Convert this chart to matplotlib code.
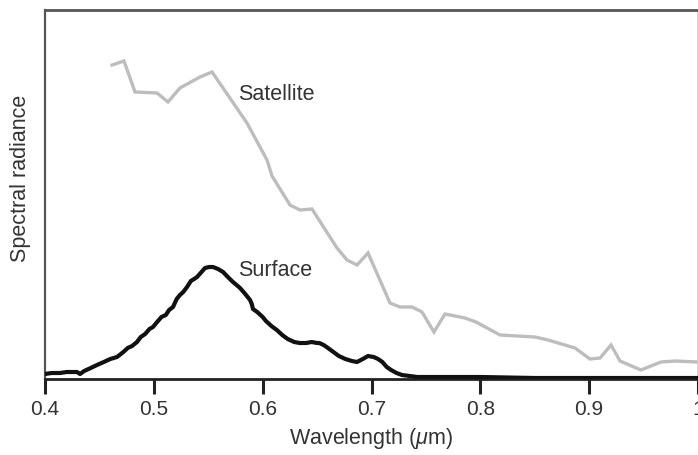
import matplotlib
matplotlib.use("Agg")
import matplotlib.pyplot as plt

plt.rcParams['font.family'] = ['Liberation Sans', 'DejaVu Sans']
plt.rcParams['mathtext.fontset'] = 'custom'
plt.rcParams['mathtext.it'] = 'Liberation Sans:italic'
plt.rcParams['mathtext.rm'] = 'Liberation Sans'

# Satellite spectrum (wavelength in um, radiance in arbitrary units)
sat_wl = [0.4616, 0.4726, 0.4827, 0.5029, 0.5130, 0.5240, 0.5424, 0.5535,
          0.5856, 0.6040, 0.6086, 0.6251, 0.6343, 0.6453, 0.6683, 0.6775,
          0.6867, 0.6968, 0.7170, 0.7262, 0.7372, 0.7464, 0.7574, 0.7675,
          0.7859, 0.7960, 0.8181, 0.8502, 0.8622, 0.8870, 0.9008, 0.9100,
          0.9201, 0.9283, 0.9476, 0.9660, 0.9789, 1.0000]
sat_val = [314, 318, 287, 286, 277, 291, 302, 307,
           256, 219, 203, 174, 169, 170, 131, 119,
           114, 126, 76, 72, 72, 67, 47, 65,
           61, 57, 44, 42, 39, 31, 20, 21,
           34, 18, 9, 17, 18, 17]

# Surface spectrum
surf_wl = [0.4000, 0.4060, 0.4138, 0.4200, 0.4294, 0.4322, 0.4360, 0.4420,
           0.4478, 0.4540, 0.4600, 0.4662, 0.4720, 0.4760, 0.4800, 0.4845,
           0.4880, 0.4920, 0.4960, 0.4992, 0.5030, 0.5070, 0.5110, 0.5140,
           0.5176, 0.5210, 0.5240, 0.5270, 0.5305, 0.5340, 0.5370, 0.5397,
           0.5430, 0.5470, 0.5510, 0.5544, 0.5590, 0.5636, 0.5680, 0.5727,
           0.5760, 0.5792, 0.5840, 0.5884, 0.5900, 0.5911, 0.5950, 0.6000,
           0.6030, 0.6080, 0.6130, 0.6180, 0.6230, 0.6290, 0.6340, 0.6400,
           0.6450, 0.6500, 0.6520, 0.6560, 0.6600, 0.6650, 0.6700, 0.6760,
           0.6820, 0.6867, 0.6920, 0.6968, 0.7020, 0.7060, 0.7100, 0.7140,
           0.7180, 0.7230, 0.7280, 0.7350, 0.7420, 0.7500, 0.7700, 0.8000,
           0.8500, 0.9000, 0.9500, 1.0000]
surf_val = [5, 6, 6, 7, 7, 5, 8, 11,
            14, 17, 20, 22, 27, 31, 33, 37,
            42, 45, 50, 52, 57, 62, 64, 69,
            72, 80, 84, 87, 92, 98, 100, 102,
            106, 111, 112, 112, 110, 107, 102, 97,
            94, 91, 85, 79, 75, 70, 67, 62,
            58, 53, 49, 44, 40, 37, 36, 36,
            37, 36, 36, 34, 31, 27, 23, 20,
            18, 17, 20, 23, 22, 20, 17, 12,
            9, 6, 4, 3, 2, 2, 2, 2,
            1, 1, 1, 1]

fig = plt.figure(figsize=(6.98, 4.55), dpi=100)
ax = fig.add_axes([45/698, 76/455, 1 - 45/698, 369/455])

ax.plot(sat_wl, sat_val, color='#bdbdbd', lw=2.4, solid_joinstyle='miter', zorder=2)
ax.plot(surf_wl, surf_val, color='#111111', lw=3.0, zorder=3)

ax.set_xlim(0.4, 1.0)
ax.set_ylim(0, 369)
ax.set_xticks([0.4, 0.5, 0.6, 0.7, 0.8, 0.9, 1.0])
ax.set_xticklabels(['0.4', '0.5', '0.6', '0.7', '0.8', '0.9', '1'])
ax.set_yticks([])
ax.tick_params(axis='x', direction='out', length=11, width=2.2, color='#222222',
               labelsize=15, labelcolor='#333333', pad=4)

ax.spines['left'].set_color('#555555')
ax.spines['left'].set_linewidth(1.6)
ax.spines['top'].set_color('#555555')
ax.spines['top'].set_linewidth(2.0)
ax.spines['right'].set_color('#cccccc')
ax.spines['right'].set_linewidth(1.2)
ax.spines['bottom'].set_color('#222222')
ax.spines['bottom'].set_linewidth(2.0)

ax.set_xlabel(r'Wavelength ($\mu$m)', fontsize=15.5, color='#333333', labelpad=5)
ax.set_ylabel('Spectral radiance', fontsize=15.5, color='#333333')
ax.yaxis.set_label_coords(-14/653, (379 - 178) / 369)

ax.text(0.5775, 284, 'Satellite', fontsize=15.5, color='#333333',
        ha='left', va='center')
ax.text(0.5775, 108, 'Surface', fontsize=15.5, color='#333333',
        ha='left', va='center')

fig.savefig('out.png', dpi=100)
